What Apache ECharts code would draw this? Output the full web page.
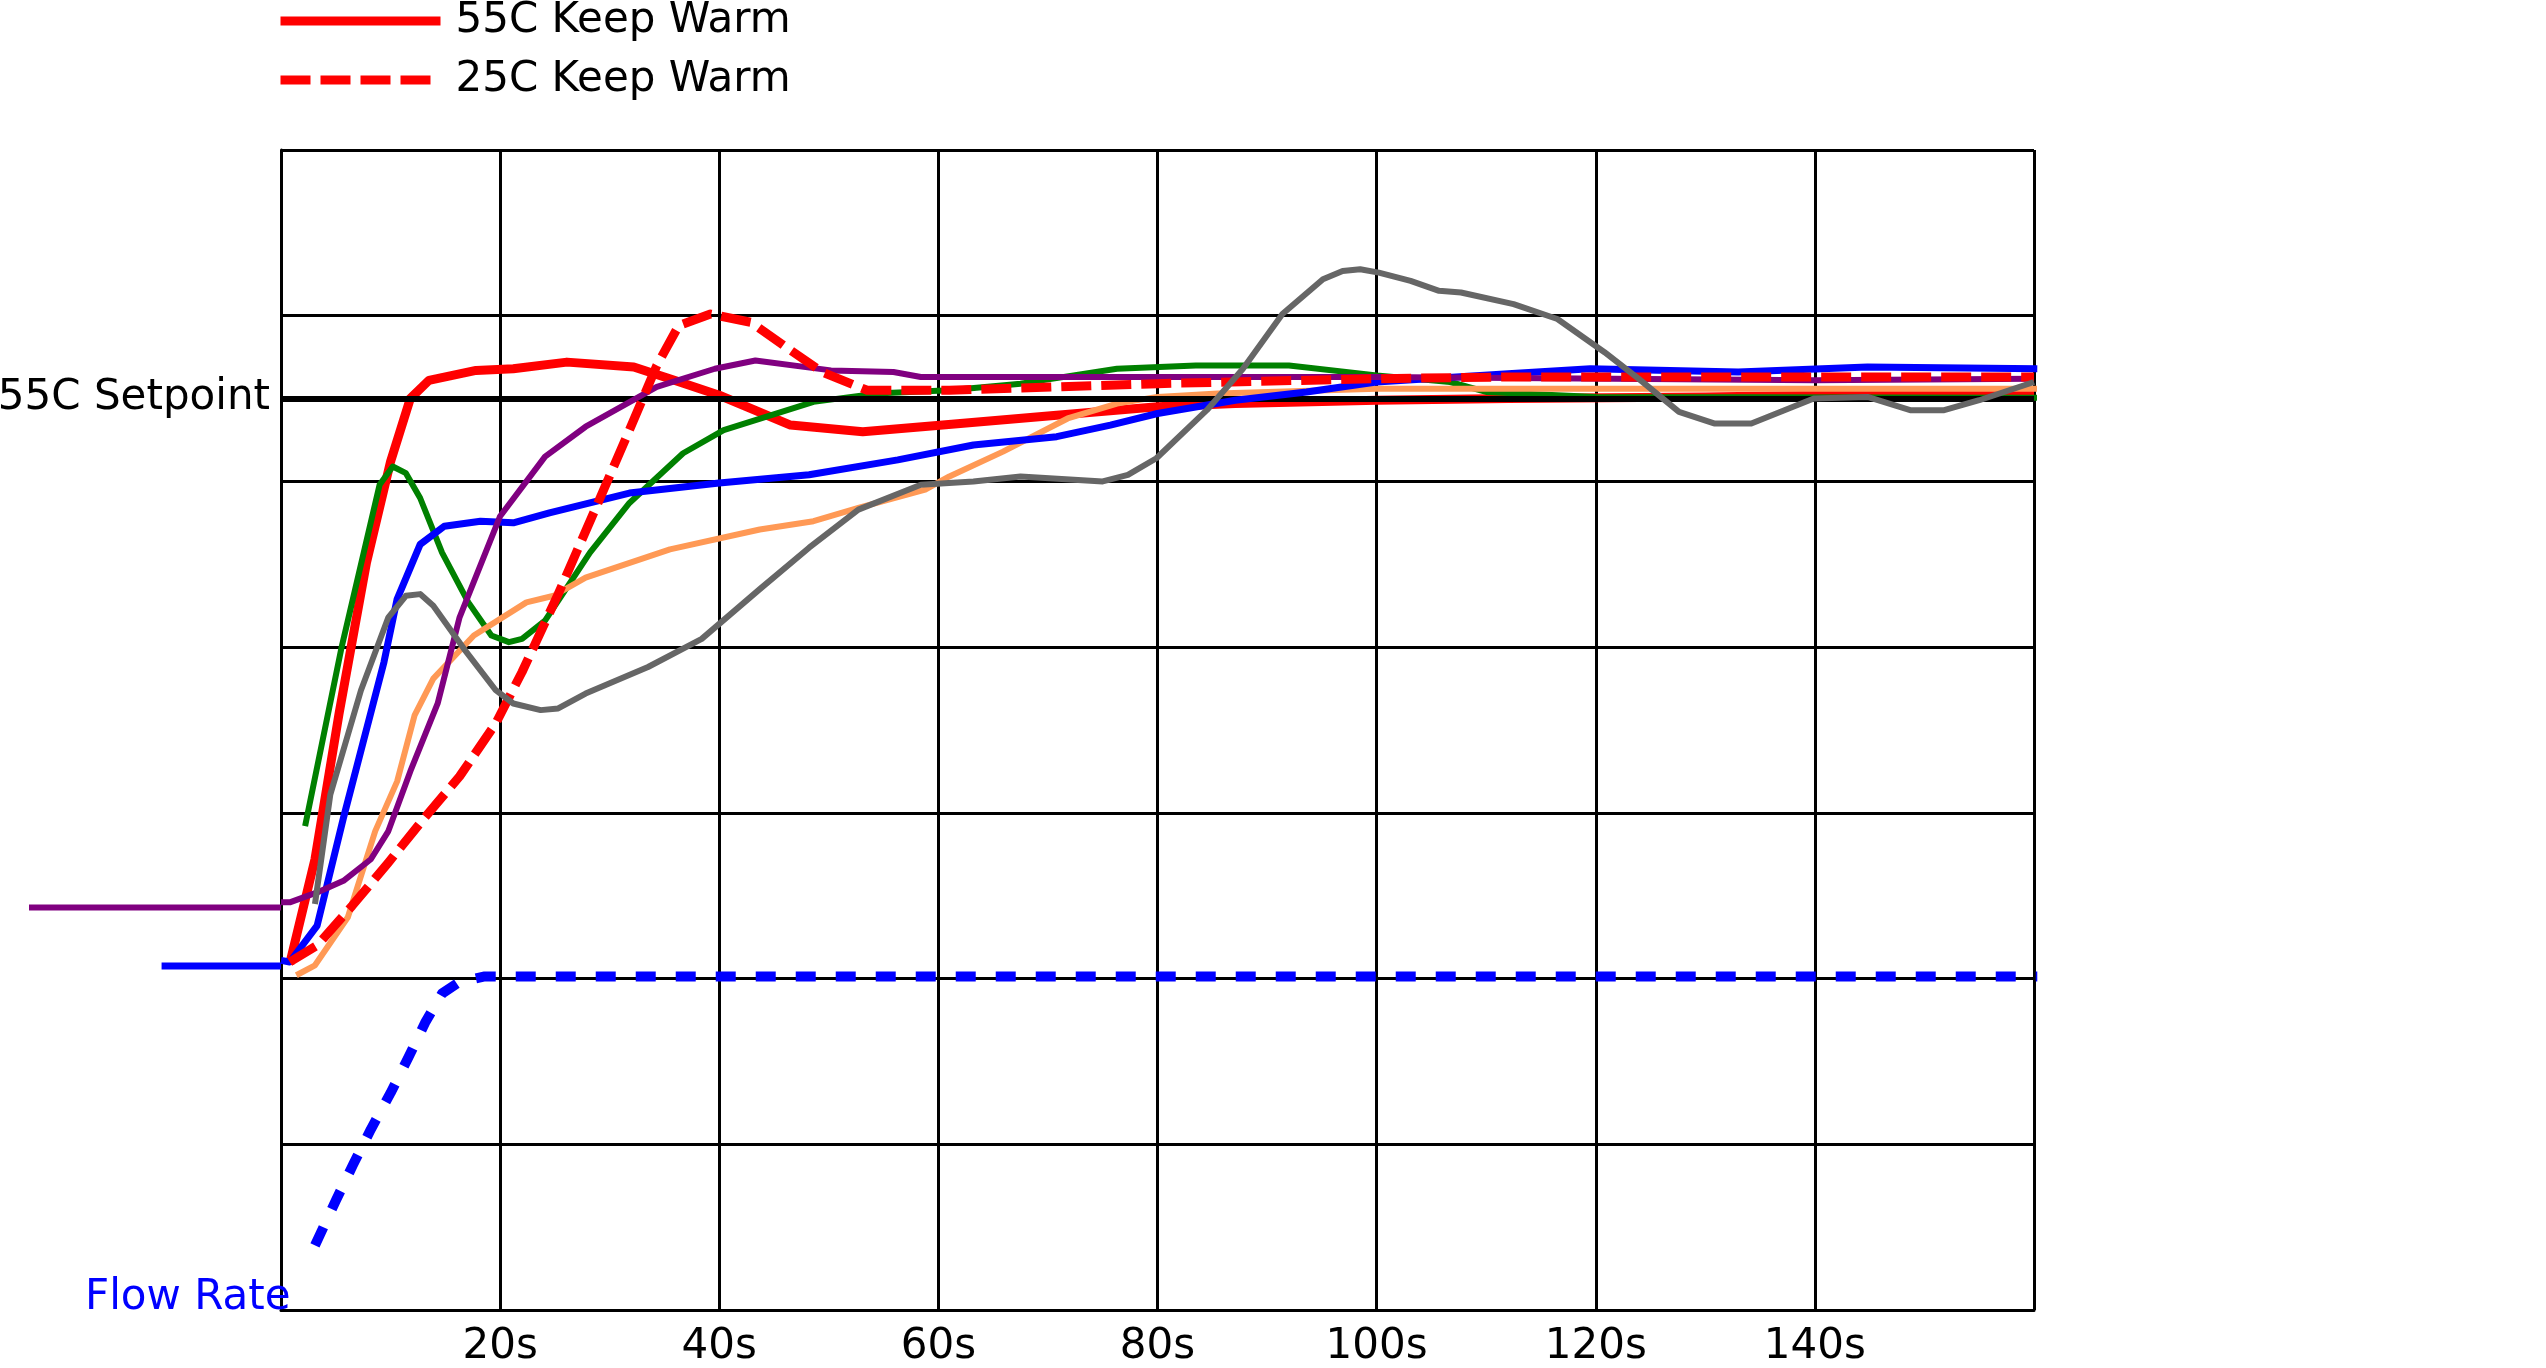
<!DOCTYPE html>
<html>
<head>
<meta charset="utf-8">
<script src="https://cdn.jsdelivr.net/npm/echarts@6/dist/echarts.min.js"></script>
<style>
  html, body { margin: 0; padding: 0; background: #fff; }
  #main { width: 2546px; height: 1368px; }
</style>
</head>
<body>
<div id="main"></div>
<script>
// x = seconds, y = temperature (C); flow rate is drawn on the same scale
var xTicks = [0, 20, 40, 60, 80, 100, 120, 140, 160];
var leadIn = [-25, 0];   // part of the runs drawn left of the plot
var setpoint = 55;

var keepWarm55 = [[0.8,20.9],[3.1,27.2],[5.3,36.0],[7.8,45.1],[10.0,51.2],[11.8,55.0],[13.5,56.1],[17.8,56.7],[21.2,56.8],[26.1,57.2],[32.2,56.9],[35.9,56.1],[40,55.2],[46.5,53.4],[53.1,53.0],[60.4,53.4],[70.8,54.0],[80,54.5],[87.1,54.7],[100,54.9],[112,55.0],[130,55.1],[160,55.4]];
var keepWarm25 = [[0.8,21.0],[3.3,22.0],[6.5,24.4],[9.8,27.0],[13.1,29.7],[16.3,32.2],[19.6,35.4],[22.0,38.5],[25.3,43.2],[28.6,48.2],[31.8,53.1],[34.3,57.0],[36.3,59.4],[39.2,60.1],[42.9,59.6],[46.1,58.1],[49.4,56.6],[53.5,55.5],[61,55.5],[80,55.9],[100,56.2],[112,56.3],[160,56.3]];
var purpleRun = [[-23,24.6],[0,24.6],[0.8,24.6],[3.3,25.2],[5.7,25.9],[8.2,27.2],[9.8,28.9],[11.8,32.5],[14.3,36.6],[16.3,41.8],[20.0,47.9],[24.1,51.5],[27.8,53.3],[34.3,55.7],[39.6,56.8],[43.3,57.3],[50.2,56.7],[55.9,56.6],[58.4,56.3],[100,56.3],[140,56.1],[160,56.2]];
var blueRun = [[-10.9,21.1],[0,21.1],[0.8,21.0],[3.3,23.2],[5.7,29.7],[9.4,39.1],[10.6,42.9],[12.7,46.2],[14.9,47.3],[18.2,47.6],[21.2,47.5],[24.5,48.1],[31.8,49.3],[40,49.9],[48.2,50.4],[56.3,51.3],[63.2,52.2],[70.8,52.7],[75.7,53.4],[80,54.1],[87.1,54.9],[93.6,55.4],[100,56.0],[112,56.5],[119.5,56.8],[133,56.6],[144.8,56.9],[160.3,56.8]];
var greenRun = [[2.2,29.2],[5.5,39.9],[9.0,49.8],[10.2,50.9],[11.4,50.5],[12.7,49.0],[14.7,45.7],[17.1,42.7],[19.2,40.7],[20.8,40.3],[22.0,40.5],[24.1,41.6],[28.2,45.7],[31.8,48.7],[36.7,51.7],[40.4,53.1],[48.6,54.8],[54.3,55.3],[61,55.5],[67.5,55.9],[76.3,56.8],[83.5,57.0],[92,57.0],[100,56.4],[106.7,56.0],[110,55.4],[120,55.1],[160.3,55.05]];
var orangeRun = [[1.4,20.2],[3.1,20.8],[6.1,23.7],[8.6,28.9],[10.6,31.9],[12.2,35.9],[13.9,38.1],[17.6,40.7],[22.4,42.7],[24.9,43.1],[27.8,44.2],[35.5,45.9],[43.7,47.1],[48.6,47.6],[52.7,48.4],[58.8,49.5],[61,50.3],[65.9,51.8],[71.8,53.8],[76.3,54.7],[80,55.1],[85.5,55.3],[100,55.6],[160.3,55.6]];
var grayRun = [[3.1,24.5],[4.5,31.1],[7.3,37.4],[9.8,41.8],[11.4,43.1],[12.7,43.2],[13.9,42.5],[16.7,39.9],[19.6,37.4],[21.2,36.6],[23.7,36.2],[25.3,36.3],[27.8,37.2],[33.5,38.8],[38.4,40.5],[43.7,43.5],[48.2,46.0],[52.7,48.3],[58.4,49.8],[63.2,50.0],[67.5,50.3],[75.0,50.0],[77.3,50.4],[79.9,51.4],[84.5,54.3],[87.8,56.8],[91.4,60.1],[95.1,62.2],[96.9,62.7],[98.5,62.8],[100.2,62.6],[103.1,62.1],[105.7,61.5],[107.7,61.4],[112.5,60.7],[116.5,59.8],[120.8,57.8],[123.9,56.2],[127.6,54.2],[130.8,53.5],[134.2,53.5],[139.9,55.0],[144.8,55.1],[148.7,54.3],[151.8,54.3],[155.0,54.9],[160,56.0]];
var flowRate = [[3.1,3.9],[5.0,6.6],[6.6,8.8],[8.2,10.9],[10.0,13.1],[11.6,15.2],[13.2,17.4],[14.7,19.1],[16.3,19.8],[18.5,20.12],[20,20.12],[160.3,20.12]];

var FONT = 'DejaVu Sans';
var PLOT = { left: 281, top: 150, width: 1753, height: 1168 };
var leadWidth = PLOT.width * (leadIn[1] - leadIn[0]) / (xTicks[xTicks.length - 1] - xTicks[0]);

function run(name, data, color, width, dash, z, onLead) {
  return {
    name: name,
    type: 'line',
    data: data,
    xAxisIndex: onLead ? 1 : 0,
    yAxisIndex: onLead ? 1 : 0,
    symbol: 'none',
    clip: false,
    z: z,
    lineStyle: { color: color, width: width, type: dash || 'solid', cap: 'butt', join: 'round' },
    itemStyle: { color: color },
    emphasis: { disabled: true }
  };
}
function before0(d) { return d.filter(function (p) { return p[0] <= 0; }); }
function after0(d) { return d.filter(function (p) { return p[0] >= 0; }); }

var chart = echarts.init(document.getElementById('main'));
chart.setOption({
  animation: false,
  backgroundColor: '#fff',
  title: {
    text: 'Flow Rate',
    left: 85,
    top: 1277,
    padding: 0,
    textStyle: { color: '#0000ff', fontSize: 42, fontWeight: 'normal', fontFamily: FONT }
  },
  legend: {
    data: ['55C Keep Warm', '25C Keep Warm'],
    orient: 'vertical',
    left: 276,
    top: 0,
    padding: 0,
    itemWidth: 160,
    itemHeight: 40,
    itemGap: 17,
    itemStyle: { opacity: 0 },
    lineStyle: { width: 9 },
    textStyle: { fontSize: 42, fontFamily: FONT, color: '#000', padding: [0, 0, 0, 10] }
  },
  grid: [
    { left: PLOT.left, top: PLOT.top, width: PLOT.width, height: PLOT.height },
    { left: PLOT.left - leadWidth, top: PLOT.top, width: leadWidth, height: PLOT.height }
  ],
  xAxis: [{
    type: 'value',
    min: xTicks[0],
    max: xTicks[xTicks.length - 1],
    interval: 20,
    axisLine: { show: true, lineStyle: { color: '#000', width: 3 } },
    axisTick: { show: false },
    axisLabel: {
      margin: 16,
      fontSize: 42,
      fontFamily: FONT,
      color: '#000',
      formatter: function (v) { return (v === 0 || v === 160) ? '' : v + 's'; }
    },
    splitLine: { show: true, lineStyle: { color: '#000', width: 3 } }
  }, {
    type: 'value', gridIndex: 1, min: leadIn[0], max: leadIn[1], show: false
  }],
  yAxis: [{
    type: 'value',
    min: 0,
    max: 70,
    interval: 10,
    axisLine: { show: true, lineStyle: { color: '#000', width: 3 } },
    axisTick: { show: false },
    axisLabel: { show: false },
    splitLine: { show: true, lineStyle: { color: '#000', width: 3 } }
  }, {
    type: 'value', gridIndex: 1, min: 0, max: 70, show: false
  }],
  series: [
    {
      name: 'Setpoint',
      type: 'line',
      data: [],
      z: 1,
      markLine: {
        silent: true,
        symbol: 'none',
        animation: false,
        lineStyle: { color: '#000', width: 6, type: 'solid' },
        label: {
          position: 'start',
          distance: 11,
          formatter: '55C Setpoint',
          fontSize: 42,
          fontFamily: FONT,
          color: '#000'
        },
        data: [{ yAxis: setpoint }]
      }
    },
    run('55C Keep Warm', keepWarm55, '#ff0000', 9, null, 2),
    run('green', greenRun, '#008000', 6, null, 3),
    run('orange', orangeRun, '#ff9955', 6, null, 4),
    run('blue', after0(blueRun), '#0000ff', 7, null, 5),
    run('blue lead', before0(blueRun), '#0000ff', 7, null, 5, true),
    run('purple', after0(purpleRun), '#800080', 6, null, 6),
    run('purple lead', before0(purpleRun), '#800080', 6, null, 6, true),
    run('25C Keep Warm', keepWarm25, '#ff0000', 9, [30, 10], 7),
    run('gray', grayRun, '#666666', 6, null, 8),
    run('Flow Rate', flowRate, '#0000ff', 10, [20, 20], 9)
  ]
});
</script>
</body>
</html>
